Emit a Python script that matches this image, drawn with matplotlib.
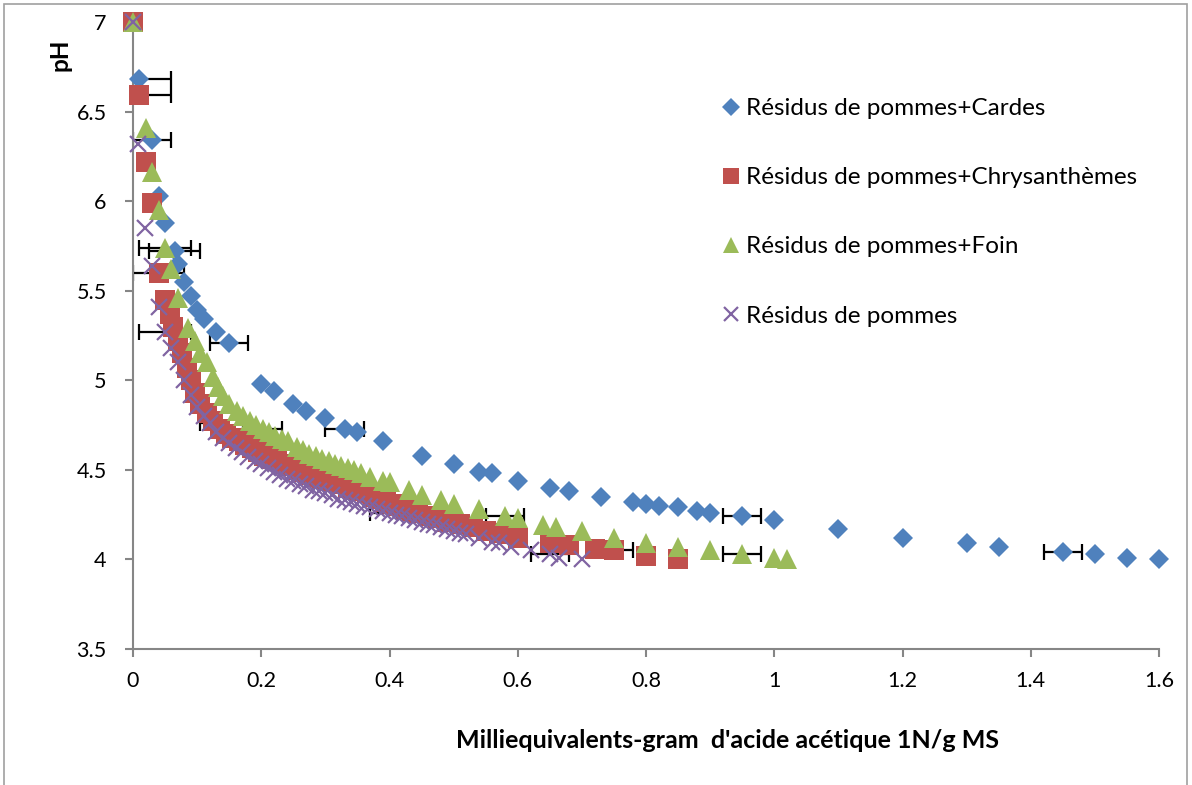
import matplotlib
matplotlib.use("Agg")
import matplotlib.pyplot as plt
from matplotlib.patches import Rectangle
from matplotlib.ticker import FuncFormatter, MultipleLocator

plt.rcParams['font.family'] = ['Lato', 'DejaVu Sans']

# --- data: meq acetic acid per g DM (x) vs pH (y) ---
cardes_x = [0.0, 0.01, 0.03, 0.04, 0.05, 0.065, 0.07, 0.08, 0.09, 0.10, 0.11, 0.13, 0.15,
            0.20, 0.22, 0.25, 0.27, 0.30, 0.33, 0.35, 0.39, 0.45, 0.50, 0.54, 0.56, 0.60,
            0.65, 0.68, 0.73, 0.78, 0.80, 0.82, 0.85, 0.88, 0.90, 0.95, 1.00, 1.10, 1.20,
            1.30, 1.35, 1.45, 1.50, 1.55, 1.60]
cardes_y = [7.00, 6.68, 6.34, 6.03, 5.88, 5.72, 5.65, 5.55, 5.47, 5.39, 5.34, 5.27, 5.21,
            4.98, 4.94, 4.87, 4.83, 4.79, 4.73, 4.71, 4.66, 4.58, 4.53, 4.49, 4.48, 4.44,
            4.40, 4.38, 4.35, 4.32, 4.31, 4.30, 4.29, 4.27, 4.26, 4.24, 4.22, 4.17, 4.12,
            4.09, 4.07, 4.04, 4.03, 4.01, 4.00]

chrys_x = [0.0, 0.01, 0.02, 0.03, 0.04, 0.05, 0.058, 0.063, 0.07, 0.076, 0.084, 0.09,
           0.097, 0.105, 0.115, 0.125, 0.135, 0.145, 0.155, 0.165, 0.175, 0.185, 0.195,
           0.205, 0.215, 0.225, 0.235, 0.245, 0.255, 0.265, 0.275, 0.285, 0.295, 0.305,
           0.315, 0.325, 0.335, 0.345, 0.355, 0.365, 0.375, 0.385, 0.395, 0.405, 0.415,
           0.425, 0.435, 0.445, 0.46, 0.475, 0.49, 0.51, 0.53, 0.55, 0.57, 0.59, 0.60,
           0.65, 0.68, 0.72, 0.75, 0.80, 0.85]
chrys_y = [7.00, 6.59, 6.22, 5.99, 5.60, 5.45, 5.37, 5.30, 5.22, 5.15, 5.07, 5.00,
           4.93, 4.87, 4.82, 4.77, 4.73, 4.70, 4.68, 4.66, 4.64, 4.62, 4.60,
           4.58, 4.56, 4.55, 4.53, 4.52, 4.50, 4.49, 4.47, 4.46, 4.45, 4.44,
           4.43, 4.42, 4.40, 4.39, 4.38, 4.37, 4.35, 4.34, 4.32, 4.31, 4.30,
           4.28, 4.27, 4.26, 4.24, 4.23, 4.21, 4.20, 4.18, 4.16, 4.15, 4.14, 4.12,
           4.09, 4.08, 4.06, 4.05, 4.02, 4.00]

foin_x = [0.0, 0.02, 0.03, 0.04, 0.05, 0.06, 0.07, 0.086, 0.097, 0.105, 0.115, 0.125,
          0.133, 0.14, 0.15, 0.162, 0.172, 0.182, 0.192, 0.202, 0.212, 0.222, 0.232,
          0.242, 0.255, 0.265, 0.275, 0.285, 0.295, 0.305, 0.315, 0.325, 0.335, 0.345,
          0.355, 0.37, 0.39, 0.40, 0.43, 0.45, 0.48, 0.50, 0.54, 0.58, 0.60, 0.64, 0.66,
          0.70, 0.75, 0.80, 0.85, 0.90, 0.95, 1.00, 1.02]
foin_y = [7.00, 6.41, 6.16, 5.95, 5.74, 5.62, 5.46, 5.29, 5.22, 5.15, 5.10, 5.02,
          4.96, 4.91, 4.87, 4.83, 4.80, 4.77, 4.75, 4.73, 4.71, 4.69, 4.67,
          4.66, 4.63, 4.61, 4.59, 4.58, 4.56, 4.55, 4.53, 4.52, 4.51, 4.50,
          4.48, 4.46, 4.44, 4.43, 4.39, 4.36, 4.33, 4.31, 4.28, 4.24, 4.23, 4.19, 4.18,
          4.16, 4.12, 4.09, 4.07, 4.05, 4.03, 4.01, 4.00]

pommes_x = [0.0, 0.008, 0.019, 0.03, 0.04, 0.05, 0.06, 0.07, 0.08, 0.09, 0.10, 0.11,
            0.12, 0.13, 0.14, 0.15, 0.16, 0.17, 0.18, 0.19, 0.20, 0.21, 0.22, 0.23, 0.24,
            0.25, 0.26, 0.27, 0.28, 0.29, 0.30, 0.31, 0.32, 0.33, 0.34, 0.35, 0.36, 0.37,
            0.38, 0.39, 0.40, 0.41, 0.42, 0.43, 0.44, 0.45, 0.46, 0.47, 0.48, 0.49, 0.50,
            0.51, 0.52, 0.54, 0.56, 0.57, 0.59, 0.62, 0.65, 0.665, 0.70]
pommes_y = [7.00, 6.32, 5.85, 5.64, 5.41, 5.27, 5.18, 5.10, 5.00, 4.92, 4.85, 4.80,
            4.76, 4.71, 4.68, 4.65, 4.62, 4.60, 4.57, 4.55, 4.53, 4.51, 4.49, 4.47, 4.45,
            4.44, 4.42, 4.41, 4.39, 4.38, 4.37, 4.36, 4.34, 4.33, 4.32, 4.31, 4.30, 4.29,
            4.28, 4.27, 4.26, 4.25, 4.24, 4.23, 4.22, 4.21, 4.20, 4.19, 4.18, 4.17, 4.16,
            4.15, 4.14, 4.12, 4.10, 4.09, 4.07, 4.05, 4.03, 4.01, 4.00]

# horizontal error (± meq/g) at selected points, keyed by x
cardes_err = {0.01: 0.05, 0.03: 0.03, 0.065: 0.04, 0.15: 0.03, 0.33: 0.03, 0.95: 0.03, 1.45: 0.03}
chrys_err = {0.01: 0.05, 0.04: 0.04, 0.75: 0.03}
foin_err = {0.05: 0.04, 0.202: 0.03, 0.58: 0.03, 0.95: 0.03}
pommes_err = {0.05: 0.04, 0.12: 0.015, 0.40: 0.03, 0.65: 0.03}

labels = ["Résidus de pommes+Cardes", "Résidus de pommes+Chrysanthèmes",
          "Résidus de pommes+Foin", "Résidus de pommes"]
x_label = "Milliequivalents-gram  d'acide acétique 1N/g MS"
y_label = "pH"

series = [
    (cardes_x, cardes_y, cardes_err, dict(marker='D', color='#4F81BD', ms=10.5, mew=0)),
    (chrys_x, chrys_y, chrys_err, dict(marker='s', color='#C0504D', ms=14, mew=0)),
    (foin_x, foin_y, foin_err, dict(marker='^', color='#9BBB59', ms=14, mew=0)),
    (pommes_x, pommes_y, pommes_err, dict(marker='x', color='#8064A2', ms=12, mew=1.6)),
]

fig = plt.figure(figsize=(11.92, 7.85), dpi=100)
ax = fig.add_axes([133 / 1192, 1 - 649 / 785, (1159 - 133) / 1192, (649 - 22) / 785])

# error bars beneath the markers
for xs, ys, errs, st in series:
    ex = [x for x in xs if x in errs]
    ey = [ys[xs.index(x)] for x in ex]
    ee = [errs[x] for x in ex]
    ax.errorbar(ex, ey, xerr=ee, fmt='none', ecolor='black', elinewidth=1.6,
                capsize=6, capthick=1.6, zorder=2)

handles = []
for (xs, ys, errs, st), lab in zip(series, labels):
    h, = ax.plot(xs, ys, linestyle='none', label=lab, zorder=3, clip_on=False, **st)
    handles.append(h)

ax.set_xlim(0, 1.6)
ax.set_ylim(3.5, 7)
ax.xaxis.set_major_locator(MultipleLocator(0.2))
ax.yaxis.set_major_locator(MultipleLocator(0.5))
fmt = FuncFormatter(lambda v, p: f"{v:g}")
ax.xaxis.set_major_formatter(fmt)
ax.yaxis.set_major_formatter(fmt)

for s in ('top', 'right'):
    ax.spines[s].set_visible(False)
for s in ('left', 'bottom'):
    ax.spines[s].set_color('#868686')
    ax.spines[s].set_linewidth(1.5)
ax.tick_params(axis='both', direction='out', length=6, width=1.5, color='#868686',
               labelsize=15.5, labelcolor='black')
ax.tick_params(axis='y', pad=13)
ax.tick_params(axis='x', pad=10)

fig.text(728 / 1192, 1 - 740 / 785, x_label, ha='center', va='center',
         fontsize=18, fontweight='bold')
fig.text(60 / 1192, 1 - 55 / 785, y_label, ha='center', va='center', rotation=90,
         fontsize=17.5, fontweight='bold')

leg = ax.legend(handles=handles, loc='upper left', bbox_to_anchor=(710 / 1192, 1 - 86 / 785),
                bbox_transform=fig.transFigure, frameon=False, fontsize=17.5,
                handlelength=0.7, handletextpad=0.3, labelspacing=1.98, borderpad=0,
                markerscale=0.85)

fig.add_artist(Rectangle((4 / 1192, -0.01), 1183 / 1192, 1.01 - 4 / 785,
                         transform=fig.transFigure, fill=False, edgecolor='#A0A0A0',
                         linewidth=1.2))

fig.savefig("out.png", dpi=100, facecolor='white')
